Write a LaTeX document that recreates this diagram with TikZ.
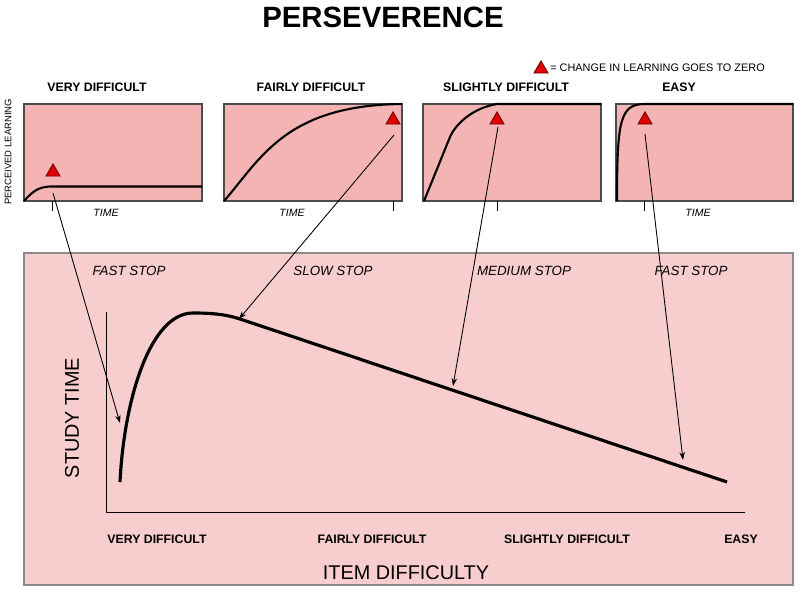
\documentclass[tikz,border=0pt]{standalone}
\usepackage{fontspec}
\setmainfont{Liberation Sans}
\usepackage{tikz}
\usetikzlibrary{arrows.meta,shapes.geometric}
\definecolor{panelred}{HTML}{F4B4B4}
\definecolor{bigred}{HTML}{F8CDCD}
\definecolor{trired}{HTML}{E50000}

\begin{document}
\begin{tikzpicture}[x=0.02cm,y=-0.02cm,
    panel/.style={draw=black!70,fill=panelred,line width=0.6pt},
    bigpanel/.style={draw=black!45,fill=bigred,line width=0.6pt},
    ptitle/.style={font=\fontsize{7}{8}\selectfont\bfseries},
    timelbl/.style={font=\fontsize{6}{7}\selectfont\itshape},
    stoplbl/.style={font=\fontsize{7.6}{9}\selectfont\itshape},
    axlbl/.style={font=\fontsize{11.3}{13}\selectfont},
    marker/.style={regular polygon,regular polygon sides=3,fill=trired,
        draw=black!60!red,inner sep=0pt,minimum size=9.2pt,line width=0.5pt},
    pointer/.style={-{Stealth[length=4.5pt,width=3.2pt]},line width=0.5pt},
    learn/.style={line width=1.2pt},
    study/.style={line width=1.8pt}]
 \useasboundingbox (0,0) rectangle (800,591);
 %title and legend
    \node[font=\fontsize{16.7}{20}\selectfont\bfseries] (title) at (383,17) {PERSEVERENCE};
    \node[marker] (key) at (541,69) {};
    \node[anchor=west,inner sep=0pt,font=\fontsize{6.2}{7}\selectfont] (keytext) at (550,68) {= CHANGE IN LEARNING GOES TO ZERO};
    \node[rotate=90,font=\fontsize{5.4}{6}\selectfont] (perceived) at (8,152) {PERCEIVED LEARNING};
 %top panels
    \draw[panel] (24,104) rectangle (202,201);
    \draw[panel] (224,104) rectangle (402,201);
    \draw[panel] (423,104) rectangle (601,201);
    \draw[panel] (616,104) rectangle (793,201);
    \node[ptitle] (vd) at (97,87) {VERY DIFFICULT};
    \node[ptitle] (fd) at (311,87) {FAIRLY DIFFICULT};
    \node[ptitle] (sd) at (506,87) {SLIGHTLY DIFFICULT};
    \node[ptitle] (ez) at (679,87) {EASY};
    \node[timelbl] (time1) at (106,213) {TIME};
    \node[timelbl] (time2) at (292,213) {TIME};
    \node[timelbl] (time4) at (698,213) {TIME};
    \draw (52,201) -- (52,211);
    \draw (393,201) -- (393,211);
    \draw (497,201) -- (497,211);
    \draw (644,201) -- (644,211);
    \draw[learn] (24,201) .. controls (32,192) and (38,187) .. (50,186.5) -- (202,186.5);
    \draw[learn] (224,201) .. controls (260,160) and (285,105) .. (402,104);
    \draw[learn] (424,201) -- (450,137) .. controls (455,125) and (472,108) .. (497,104) -- (601,104);
    \draw[learn] (617,201) .. controls (617,120) and (620,104) .. (645,104) -- (793,104);
    \node[marker] (t1) at (53,172) {};
    \node[marker] (t2) at (393,120) {};
    \node[marker] (t3) at (497,120) {};
    \node[marker] (t4) at (645,120) {};
 %bottom panel
    \draw[bigpanel] (24,253) rectangle (793,585);
    \draw[line width=0.5pt] (106,312) -- (106,512) -- (745,512);
    \draw[study] (120,482) .. controls (124,400) and (150,313) .. (193,313) .. controls (210,313) and (225,314) .. (240,319) -- (727,482);
    \node[stoplbl] (stop1) at (129,271) {FAST STOP};
    \node[stoplbl] (stop2) at (333,271) {SLOW STOP};
    \node[stoplbl] (stop3) at (524,271) {MEDIUM STOP};
    \node[stoplbl] (stop4) at (691,271) {FAST STOP};
    \node[axlbl,rotate=90] (ylab) at (72,418) {STUDY TIME};
    \node[axlbl] (xlab) at (406,573) {ITEM DIFFICULTY};
    \node[ptitle] (x1) at (157,539) {VERY DIFFICULT};
    \node[ptitle] (x2) at (372,539) {FAIRLY DIFFICULT};
    \node[ptitle] (x3) at (567,539) {SLIGHTLY DIFFICULT};
    \node[ptitle] (x4) at (741,539) {EASY};
 %pointers
    \coordinate (s1) at (53,193);
    \coordinate (s2) at (394,135);
    \coordinate (s3) at (498,127);
    \coordinate (s4) at (645,134);
    \coordinate (e1) at (120,423);
    \coordinate (e2) at (239,319);
    \coordinate (e3) at (453,386);
    \coordinate (e4) at (683,460);
    \draw[pointer] (s1) -- (e1);
    \draw[pointer] (s2) -- (e2);
    \draw[pointer] (s3) -- (e3);
    \draw[pointer] (s4) -- (e4);
\end{tikzpicture}
\end{document}
